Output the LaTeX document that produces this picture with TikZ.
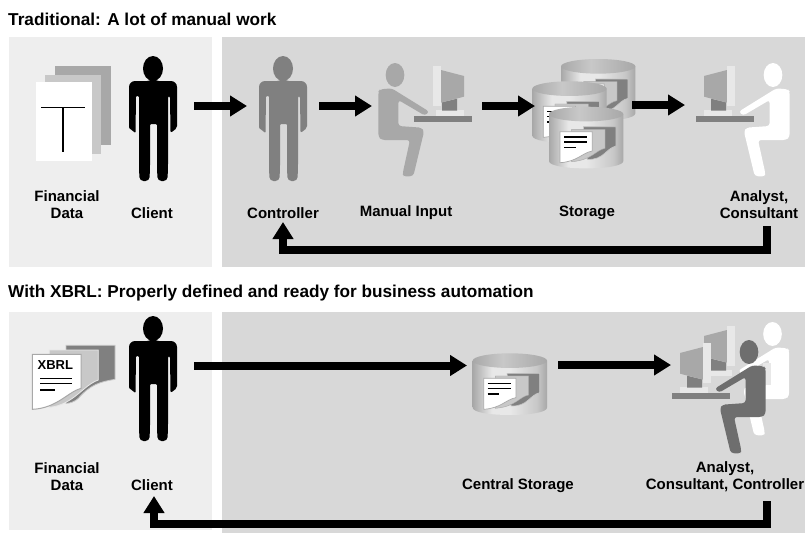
\documentclass[tikz,border=0pt]{standalone}
\usepackage{fontspec}
\setmainfont{Liberation Sans}
\usetikzlibrary{arrows.meta}
\definecolor{panelL}{HTML}{EEEEEE}
\definecolor{panelR}{HTML}{D8D8D8}
\definecolor{grA}{HTML}{A8A8A8}
\definecolor{grB}{HTML}{C8C8C8}
\definecolor{grD}{HTML}{808080}
\definecolor{grE}{HTML}{6E6E6E}
\definecolor{grL}{HTML}{E8E8E8}
\pgfdeclarehorizontalshading{cylside}{100bp}{color(0bp)=(grA); color(25bp)=(grA); color(38bp)=(grL); color(50bp)=(grL); color(68bp)=(grB); color(75bp)=(grA); color(100bp)=(grA)}
\pgfdeclarehorizontalshading{cyltop}{100bp}{color(0bp)=(grA); color(25bp)=(grA); color(45bp)=(grB); color(75bp)=(grA); color(100bp)=(grA)}
\tikzset{
  lbl/.style={font=\bfseries\fontsize{15}{17}\selectfont,inner sep=0pt,align=center},
  ttl/.style={font=\bfseries\fontsize{17.2}{19}\selectfont,inner sep=0pt,anchor=west},
  flow/.style={line width=8pt,-{Triangle[length=17pt,width=20pt]}},
  back/.style={line width=8pt,line join=miter,-{Triangle[length=17pt,width=20pt]}},
  txtline/.style={line width=1.6pt,black}
}
\newcommand{\standing}[3]{%
  \begin{scope}[shift={(#1,#2)}]
  \fill[#3] (0,12.5) ellipse [x radius=10,y radius=12.5];
  \fill[#3,rounded corners=6pt] (0,25) -- (24,25) -- (24,50) [rounded corners=2pt] -- (24,72) -- (17.5,77) -- (17,40) -- (15,40) -- (15,110) [rounded corners=4pt] -- (14.5,125) -- (4.5,125) [rounded corners=1pt] -- (4,110) -- (4,68) -- (-3,68) -- (-3,110) [rounded corners=4pt] -- (-3.5,125) -- (-13.5,125) [rounded corners=1pt] -- (-14,110) -- (-14,40) -- (-17,40) -- (-17.5,77) -- (-24,72) [rounded corners=6pt] -- (-24,50) -- (-24,25) -- (0,25) -- cycle;
  \end{scope}}
\newcommand{\seatedperson}[1]{%
  \fill[#1] (105,105) ellipse [x radius=28,y radius=36];
  \fill[#1,rounded corners=3pt] (60,148) -- (95,145) -- (208,215) -- (195,227) -- (115,180) -- (115,258) -- (185,263) -- (192,275) -- (160,408) -- (130,410) -- (128,400) -- (150,300) -- (65,300) -- (55,290) -- (55,155) -- cycle;}
\newcommand{\monitor}{%
  \fill[grL] (228,210) rectangle (312,228);
  \fill[grD] (246,187) -- (291,176) -- (291,212) -- (246,212) -- cycle;
  \fill[grA] (243,90) -- (312,108) -- (312,170) -- (243,188) -- cycle;
  \fill[grL] (220,78) rectangle (243,197);}
\newcommand{\desk}{\fill[grD] (162,228) rectangle (336,246);}
\newcommand{\cylinder}[2]{%
  \begin{scope}[shift={(#1,#2)},scale=1/3]
  \shade[shading=cylside] (0,22) -- (0,163) .. controls (0,177) and (50,185) .. (111.5,185) .. controls (173,185) and (223,177) .. (223,163) -- (223,22) -- cycle;
  \shade[shading=cyltop] (111.5,22) ellipse [x radius=111.5,y radius=22];
  \fill[grD,draw=grB,line width=.6pt] (103,60) -- (201,60) -- (201,118) .. controls (170,125) and (165,160) .. (115,158) -- cycle;
  \fill[grB,draw=grA,line width=.4pt] (68,68) -- (168,68) -- (168,125) .. controls (140,130) and (130,160) .. (68,165) -- cycle;
  \fill[white,draw=grA,line width=.7pt] (33,75) -- (130,75) -- (130,133) .. controls (100,138) and (85,165) .. (33,168) -- cycle;
  \draw[txtline] (45,90) -- (115,90) (45,105) -- (115,105) (45,122) -- (80,122);
  \end{scope}}
\begin{document}
\begin{tikzpicture}[x=1pt,y=-1pt]
\useasboundingbox (0,0) rectangle (805,533);
\fill[white] (0,0) rectangle (805,533);
% panels
\fill[panelL] (9,37) rectangle (212,267);
\fill[panelR] (222,37) rectangle (805,267);
\fill[panelL] (9,312) rectangle (212,530);
\fill[panelR] (222,312) rectangle (805,533);
% titles
\node[ttl] (t1) at (8,19) {Traditional: A lot of manual work};
\node[ttl] (t2) at (8,293) {With XBRL: Properly defined and ready for business automation};
% top: pages
\fill[grA] (55,65.7) rectangle (111,145);
\fill[grB] (45,74.7) rectangle (101,154);
\fill[white] (36,82) rectangle (92,160.7);
\draw[line width=1.2pt] (41.3,107.3) -- (85,107.3) (63,107.3) -- (63,151.7);
\standing{153}{56}{black}
\standing{283}{56}{grD}
% manual input
\begin{scope}[shift={(360,40)},scale=1/3]
\seatedperson{grA}\monitor\desk
\end{scope}
% storage
\cylinder{561}{59}
\cylinder{532.3}{81.3}
\cylinder{549}{106.7}
% analyst
\begin{scope}[shift={(808,40)},xscale=-1/3,yscale=1/3]
\monitor\seatedperson{white}\desk
\end{scope}
% top labels
\node[lbl] (fd1) at (67,204.5) {Financial\\Data};
\node[lbl] (c1) at (152,213) {Client};
\node[lbl] (ct1) at (283,213) {Controller};
\node[lbl] (mi) at (406,213) {Manual Input};
\node[lbl] (st) at (587,213) {Storage};
\node[lbl] (an1) at (759,204.5) {Analyst,\\Consultant};
% top arrows
\coordinate (a1s) at (194,106); \coordinate (a1e) at (247,106);
\coordinate (a2s) at (319,106); \coordinate (a2e) at (372,106);
\coordinate (a3s) at (482,106); \coordinate (a3e) at (535,106);
\coordinate (a4s) at (632,105); \coordinate (a4e) at (685,105);
\draw[flow] (a1s) -- (a1e);
\draw[flow] (a2s) -- (a2e);
\draw[flow] (a3s) -- (a3e);
\draw[flow] (a4s) -- (a4e);
\coordinate (b1s) at (767,226); \coordinate (b1m) at (767,250); \coordinate (b1n) at (283,250); \coordinate (b1e) at (283,222);
\draw[back] (b1s) -- (b1m) -- (b1n) -- (b1e);
% bottom: XBRL doc
\begin{scope}[shift={(0,310)},scale=1/3]
\fill[grD,draw=grB,line width=.8pt] (198,106) -- (345,106) -- (345,208) .. controls (300,215) and (270,225) .. (235,265) .. controls (225,275) and (210,280) .. (198,280) -- cycle;
\fill[grB,draw=grL,line width=.8pt] (148,120) -- (295,120) -- (295,210) .. controls (250,225) and (220,285) .. (148,292) -- cycle;
\fill[white,draw=grA,line width=1pt] (97,133) -- (243,133) -- (243,235) .. controls (205,245) and (170,295) .. (97,298) -- cycle;
\node[inner sep=0pt,font=\bfseries\fontsize{13}{13}\selectfont] (xb) at (166,166) {XBRL};
\draw[txtline] (120,205) -- (215,205) (120,220) -- (215,220) (120,240) -- (165,240);
\end{scope}
\standing{153}{316}{black}
\cylinder{472.7}{353.3}
% back analyst
\begin{scope}[shift={(807.5,299)},xscale=-1/3,yscale=1/3]
\seatedperson{white}
\end{scope}
\fill[grL] (763.3,363.3) rectangle (771,385);
\begin{scope}[shift={(808,300)},xscale=-1/3,yscale=1/3]
\monitor
\end{scope}
\begin{scope}[shift={(784,317)},xscale=-1/3,yscale=1/3]
\monitor\desk\seatedperson{grE}
\end{scope}
% bottom labels
\node[lbl] (fd2) at (67,476.5) {Financial\\Data};
\node[lbl] (c2) at (152,485) {Client};
\node[lbl] (cs) at (518,486) {Central Storage};
\node[lbl] (an2) at (725,476.5) {Analyst,\\Consultant, Controller};
% bottom arrows
\coordinate (c1s) at (194,365.5); \coordinate (c1e) at (467,365.5);
\coordinate (c2s) at (558,365); \coordinate (c2e) at (671,365);
\draw[flow] (c1s) -- (c1e);
\draw[flow] (c2s) -- (c2e);
\coordinate (d1s) at (767,501); \coordinate (d1m) at (767,524); \coordinate (d1n) at (154,524); \coordinate (d1e) at (154,496);
\draw[back] (d1s) -- (d1m) -- (d1n) -- (d1e);
\end{tikzpicture}
\end{document}
